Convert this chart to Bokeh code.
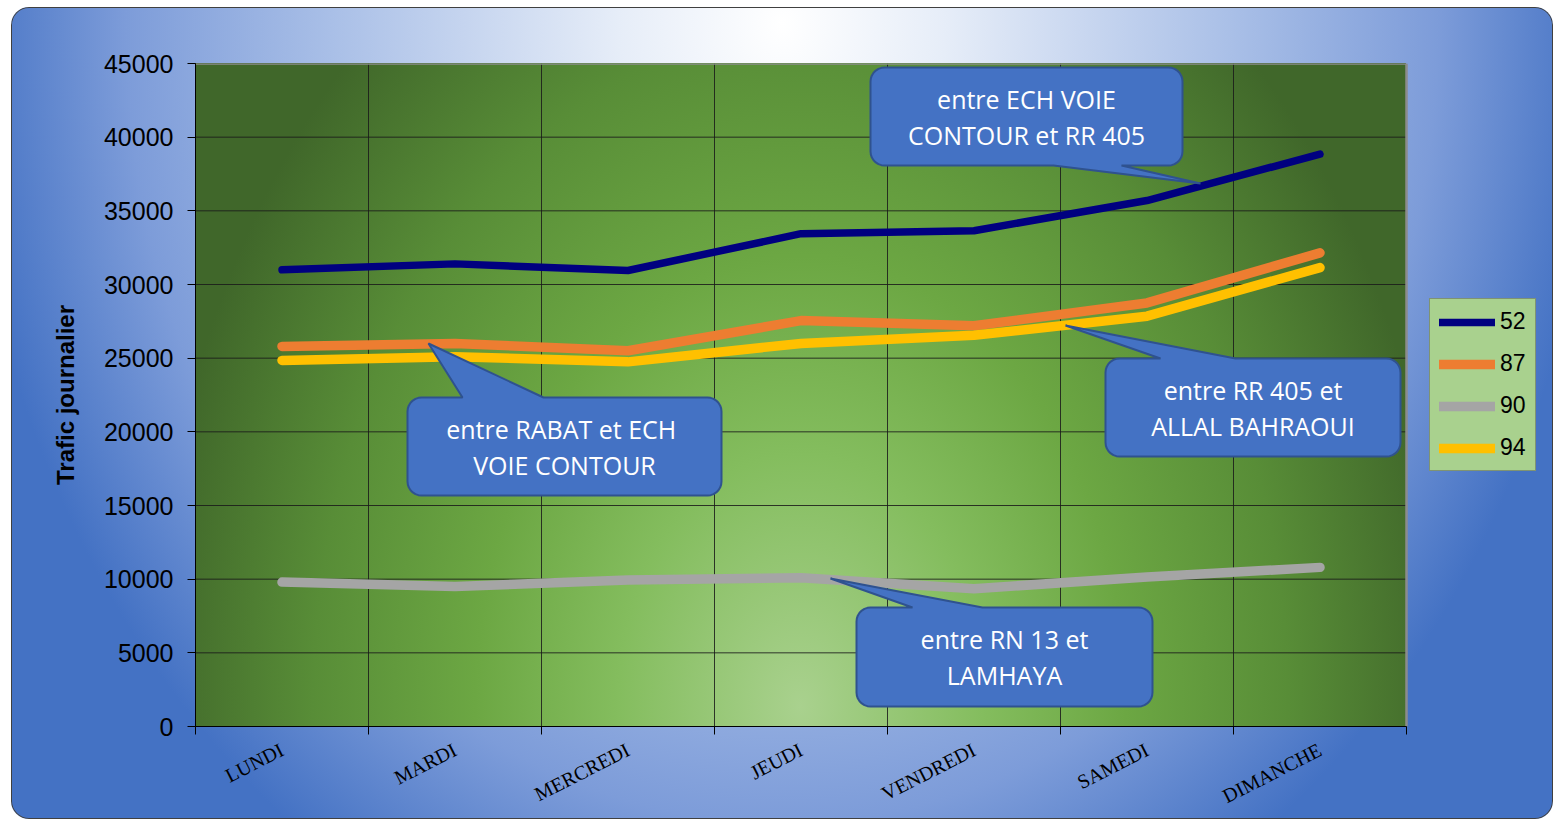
import numpy as np
from bokeh.plotting import figure
from bokeh.models import (Range1d, LinearAxis, FixedTicker, SingleIntervalTicker,
                          Legend, LegendItem)
from bokeh.core.properties import value
from bokeh.embed import file_html
from bokeh.resources import INLINE

# ---------------- data ----------------
days = ["LUNDI", "MARDI", "MERCREDI", "JEUDI", "VENDREDI", "SAMEDI", "DIMANCHE"]
s52 = [31000, 31400, 30950, 33450, 33650, 35700, 38850]
s87 = [25800, 26000, 25500, 27550, 27200, 28750, 32150]
s90 = [9800, 9500, 9950, 10100, 9350, 10150, 10800]
s94 = [24850, 25100, 24750, 26000, 26550, 27850, 31150]
series_names = ["52", "87", "90", "94"]
y_label = "Trafic journalier"
callout_texts = [
    ["entre ECH VOIE", "CONTOUR et RR 405"],
    ["entre RABAT  et ECH", "VOIE CONTOUR"],
    ["entre RR 405 et", "ALLAL BAHRAOUI"],
    ["entre RN 13 et", "LAMHAYA"],
]
YMAX = 45000
YSTEP = 5000

# category positions (band centres) and band boundaries
n_days = len(days)
pos = [i + 0.5 for i in range(n_days)]
boundaries = list(range(n_days + 1))

# ---------------- layout ----------------
OX, OY = 11, 7                                # figure offset on page (css margin)
W, H = 1542, 812
FL, FT, FB = 195 - OX, 63 - OY, 726 - OY      # plot area in figure px
PR = 1406 - OX                                # right edge of category area
band = (PR - FL) / n_days

def X(px):   # page px -> x data
    return (px - OX - FL) / band

def Y(py):   # page px -> data y
    return (FB + OY - py) * YMAX / (FB - FT)

p = figure(width=W, height=H, x_range=Range1d(0, (W - FL) / band),
           y_range=Range1d(0, YMAX), output_backend="svg", toolbar_location=None,
           min_border_left=FL, min_border_right=0, min_border_top=FT,
           min_border_bottom=H - FB)

frame_bg = ("radial-gradient(ellipse 650px 900px at 50% 97%, #a9d18e 0%, #84bd5e 28%, "
            "#6ca743 50%, #588d37 75%, #40672a 100%) "
            f"{FL}px {FT}px / {PR - FL}px {FB - FT}px no-repeat")
outer_bg = ("radial-gradient(ellipse 820px 1000px at 50% 2%, #ffffff 0%, #e6edf8 20%, "
            "#a9bfe7 55%, #7d9cd9 80%, #4472c4 100%)")
p.styles = {"background": frame_bg + ", " + outer_bg,
            "border-radius": "18px",
            "box-shadow": "inset 0 0 0 1px #404040",
            "margin-left": f"{OX}px", "margin-top": f"{OY}px"}
p.border_fill_color = None
p.background_fill_color = None
p.outline_line_color = None

# y axis
ya = p.yaxis[0]
ya.ticker = SingleIntervalTicker(interval=YSTEP)
ya.major_tick_out = 8
ya.major_tick_in = 0
ya.minor_tick_out = 0
ya.minor_tick_in = 0
ya.axis_line_color = "black"
ya.major_tick_line_color = "black"
ya.major_label_text_font = "Liberation Sans"
ya.major_label_text_font_size = "25px"
ya.major_label_text_color = "black"
ya.major_label_standoff = 14
ya.axis_label = y_label
ya.axis_label_text_font = "Liberation Sans"
ya.axis_label_text_font_style = "bold"
ya.axis_label_text_font_size = "24px"
ya.axis_label_text_color = "black"
ya.axis_label_standoff = 22

# x axes: tick marks at band boundaries, day labels at band centres
tick_axis = LinearAxis(ticker=FixedTicker(ticks=boundaries), bounds=(0, n_days),
                       major_label_overrides={b: "" for b in boundaries},
                       major_label_text_font_size="2px",
                       major_label_standoff=0, major_tick_out=8, major_tick_in=0,
                       minor_tick_out=0, minor_tick_in=0, axis_line_color="black",
                       major_tick_line_color="black")
xa = p.xaxis[0]
xa.ticker = FixedTicker(ticks=pos)
xa.major_label_overrides = {pv: d for pv, d in zip(pos, days)}
xa.bounds = (0, n_days)
xa.major_tick_out = 0
xa.major_tick_in = 0
xa.minor_tick_out = 0
xa.minor_tick_in = 0
xa.axis_line_color = None
xa.major_label_orientation = 0.47
xa.major_label_text_font = "Liberation Serif"
xa.major_label_text_font_size = "20px"
xa.major_label_text_color = "black"
xa.major_label_standoff = 14
p.below = [tick_axis] + list(p.below)

# grid: vertical lines at boundaries, horizontal lines limited to the category area
p.xgrid[0].ticker = FixedTicker(ticks=boundaries[1:-1])
p.xgrid[0].grid_line_color = "#1a1a1a"
p.xgrid[0].grid_line_alpha = 0.85
p.ygrid[0].visible = False
yticks = list(range(YSTEP, YMAX, YSTEP))
p.segment(x0=[0] * len(yticks), x1=[n_days] * len(yticks), y0=yticks, y1=yticks,
          line_color="#1a1a1a", line_alpha=0.85, line_width=1)
# plot-area outline (top and right)
p.segment(x0=[0, n_days], x1=[n_days, n_days], y0=[YMAX, 0], y1=[YMAX, YMAX],
          line_color="#8c8c8c", line_width=2.5)

# lines
colors = ["#000080", "#ED7D31", "#A5A5A5", "#FFC000"]
widths = [7.5, 9.5, 9.5, 9.5]
renderers = []
for vals, c, w in zip([s52, s87, s90, s94], colors, widths):
    r = p.line(x=pos, y=vals, line_color=c, line_width=w, line_cap="round", line_join="round")
    renderers.append(r)

# callouts (rounded box + tail), positioned in page px
def callout(x0, y0, x1, y1, edge, b0, b1, tip, r=14, n=8):
    pts = []
    def arc(cx, cy, a0, a1):
        for a in np.linspace(a0, a1, n):
            pts.append((cx + r * np.cos(a), cy + r * np.sin(a)))
    pts.append((x0 + r, y0))
    if edge == "top":
        pts += [(b0, y0), tip, (b1, y0)]
    pts.append((x1 - r, y0))
    arc(x1 - r, y0 + r, -np.pi / 2, 0)
    arc(x1 - r, y1 - r, 0, np.pi / 2)
    if edge == "bottom":
        pts += [(b1, y1), tip, (b0, y1)]
    arc(x0 + r, y1 - r, np.pi / 2, np.pi)
    arc(x0 + r, y0 + r, np.pi, 1.5 * np.pi)
    xs = [X(a) for a, b in pts]
    ys = [Y(b) for a, b in pts]
    return xs, ys

boxes = [
    (870, 67, 1182, 165, "bottom", 1053, 1121, (1200, 183)),
    (407, 397, 721, 495, "top", 462, 543, (428, 343)),
    (1105, 358, 1400, 456, "top", 1160, 1235, (1065, 325)),
    (856, 607, 1152, 706, "top", 912, 982, (830, 578)),
]
cxs, cys = [], []
tx, ty, tt = [], [], []
for b, lines in zip(boxes, callout_texts):
    xs, ys = callout(*b)
    cxs.append(xs)
    cys.append(ys)
    cx = (b[0] + b[2]) / 2
    cy = (b[1] + b[3]) / 2
    for i, t in enumerate(lines):
        tx.append(X(cx))
        ty.append(Y(cy - 18 + 36 * i))
        tt.append(t)
p.patches(xs=cxs, ys=cys, fill_color="#4472C4", line_color="#2F528F", line_width=2)
p.text(x=tx, y=ty, text=tt, text_font=value("Open Sans"), text_font_size="25px",
       text_color="white", text_align="center", text_baseline="middle")

# legend (inside the plot frame, right of the category area)
legend = Legend(items=[LegendItem(label=n, renderers=[r]) for n, r in zip(series_names, renderers)],
                location=(1429 - OX - FL, FB - (471 - OY)), margin=0, padding=9, spacing=15,
                glyph_width=56, glyph_height=26, label_height=26, label_standoff=5,
                label_text_font="Liberation Sans", label_text_font_size="23px",
                label_text_color="black",
                background_fill_color="#a9d18e", background_fill_alpha=1,
                border_line_color="#555555", border_line_width=1)
p.add_layout(legend)

open("out.html", "w").write(file_html(p, INLINE))
